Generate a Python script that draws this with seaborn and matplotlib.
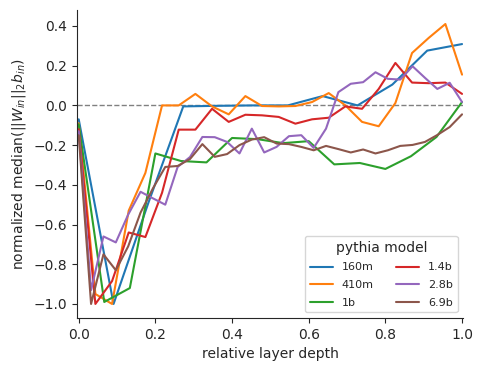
import numpy as np
import pandas as pd
import seaborn as sns
import matplotlib.pyplot as plt

sns.set_style('white')
plt.rcParams['font.family'] = ['DejaVu Sans']

models = ['160m', '410m', '1b', '1.4b', '2.8b', '6.9b']

# per-layer values
vals_160m = [-0.07, -1.0, -0.49, -0.005, -0.002, 0.0, 0.0, 0.047, 0.0, 0.105, 0.276, 0.309]
vals_410m = [-0.09, -0.95, -1.0, -0.53, -0.34, 0.0, 0.0, 0.058, -0.005, -0.045, 0.047, -0.003,
             -0.005, -0.003, 0.017, 0.062, 0.0, -0.083, -0.105, 0.012, 0.264, 0.34, 0.41, 0.155]
vals_1b = [-0.095, -0.99, -0.92, -0.242, -0.28, -0.287, -0.164, -0.17, -0.19, -0.18,
           -0.297, -0.29, -0.32, -0.256, -0.159, 0.017]
vals_1_4b = [-0.12, -1.0, -0.885, -0.64, -0.663, -0.44, -0.122, -0.122, -0.017, -0.083, -0.047, -0.05,
             -0.058, -0.092, -0.07, -0.062, -0.005, -0.017, 0.083, 0.214, 0.115, 0.112, 0.115, 0.058]
vals_2_8b = [-0.13, -0.93, -0.66, -0.69, -0.55, -0.435, -0.468, -0.5, -0.31, -0.26, -0.159, -0.16,
             -0.184, -0.242, -0.117, -0.237, -0.209, -0.155, -0.15, -0.214, -0.117, 0.067, 0.109, 0.117,
             0.167, 0.134, 0.13, 0.197, 0.139, 0.083, 0.114, 0.017]
vals_6_9b = [-0.15, -1.0, -0.75, -0.83, -0.71, -0.54, -0.418, -0.31, -0.305, -0.27, -0.195, -0.259,
             -0.245, -0.2, -0.172, -0.16, -0.192, -0.195, -0.209, -0.226, -0.204, -0.22, -0.237, -0.222,
             -0.242, -0.226, -0.204, -0.199, -0.184, -0.149, -0.109, -0.045]

all_vals = [vals_160m, vals_410m, vals_1b, vals_1_4b, vals_2_8b, vals_6_9b]

rows = []
for m, v in zip(models, all_vals):
    n = len(v)
    for i, y in enumerate(v):
        rows.append({'pythia model': m, 'relative layer depth': i / (n - 1), 'val': y})
df = pd.DataFrame(rows)

fig, ax = plt.subplots(figsize=(4.83, 3.71), dpi=100)
fig.subplots_adjust(left=0.159, right=0.959, top=0.973, bottom=0.143)

ax.axhline(0, color='gray', ls='--', lw=1)
sns.lineplot(data=df, x='relative layer depth', y='val', hue='pythia model',
             hue_order=models, palette='tab10', ax=ax)

ax.set_xlim(-0.005, 1.003)
ax.set_ylabel(r'normalized median($||W_{in}||_2 b_{in}$)')
ax.set_xlabel('relative layer depth')
sns.despine(ax=ax)
ax.tick_params(axis='both', which='both', bottom=True, left=True, length=3.5)

ax.legend(title='pythia model', ncol=2, loc='lower right', fontsize=8, title_fontsize=10,
          labelspacing=0.7, handlelength=2.1)

fig.savefig('out.png', dpi=100)
